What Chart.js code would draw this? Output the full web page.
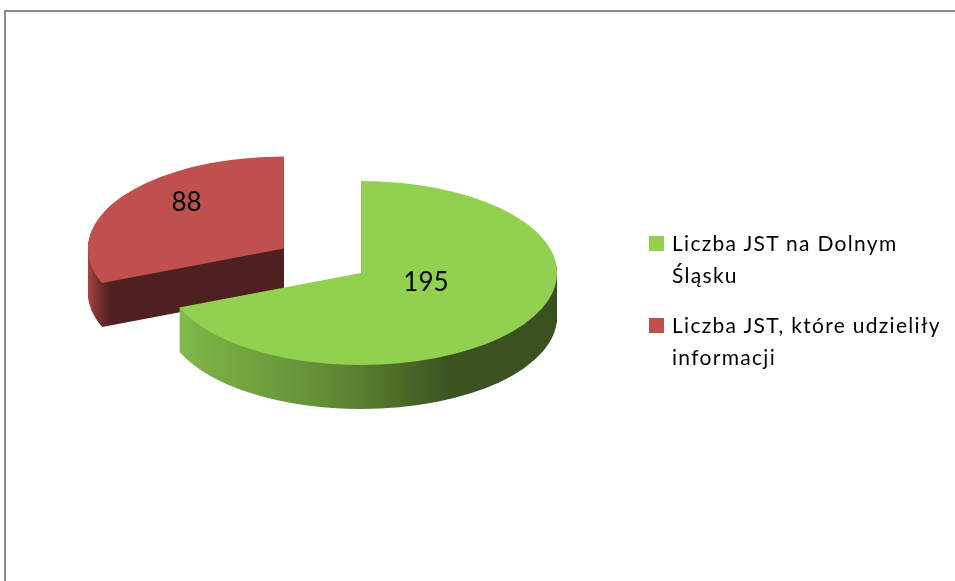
<!DOCTYPE html>
<html>
<head>
<meta charset="utf-8">
<script src="https://cdn.jsdelivr.net/npm/chart.js@4.4.1/dist/chart.umd.min.js"></script>
<style>
html, body { margin: 0; padding: 0; background: #fff; overflow: hidden; }
#wrap { position: relative; width: 955px; height: 581px; }
#frame { position: absolute; left: 4px; top: 10px; width: 970px; height: 600px;
         border-left: 2px solid #8a8a8a; border-top: 2px solid #8a8a8a; }
canvas { position: absolute; left: 0; top: 0; }
#legend { position: absolute; left: 0; top: 0; font-family: Lato, sans-serif; font-size: 21px;
          letter-spacing: 1.3px; color: #000; }
.item { position: absolute; left: 672px; width: 282px; line-height: 31.5px; }
.box { position: absolute; left: -23px; top: 9px; width: 15px; height: 15px; }
</style>
</head>
<body>
<div id="wrap">
  <div id="frame"></div>
  <canvas id="chart" width="955" height="581"></canvas>
  <div id="legend"></div>
</div>
<script>
// dane
var labels = ['Liczba JST na Dolnym Śląsku', 'Liczba JST, które udzieliły informacji'];
var values = [195, 88];
var topColors = ['#92d050', '#c0504d'];
var explode = [0, 93];

// kolory ścian bocznych (gradient od lewej do prawej)
var sideStops = [
    [[0, '#86c04c'], [0.1, '#7bb045'], [0.4, '#628f36'], [0.55, '#52752b'], [0.72, '#3c5421'], [1, '#3a5020']],
    [[0, '#a84442'], [0.025, '#7a3130'], [0.06, '#4f2020'], [1, '#4f2020']]
];

// pseudo 3D - pochylenie i grubość
var pie3d = {
    id: 'pie3d',
    beforeDatasetDraw: function(chart, args, opts) {
        var ctx = chart.ctx;
        var area = chart.chartArea;
        var yc = (area.top + area.bottom) / 2;
        var k = opts.tilt;
        var slices = args.meta.data.map(function(arc, i) {
            var p = arc.getProps(['x', 'y', 'startAngle', 'endAngle', 'outerRadius'], true);
            var off = arc.options.offset || 0;
            var mid = (p.startAngle + p.endAngle) / 2;
            var ux = p.x + Math.cos(mid) * off;
            var uy = p.y + Math.sin(mid) * off;
            return { i: i, cx: ux, cy: yc + (uy - yc) * k, r: p.outerRadius, s: p.startAngle, e: p.endAngle, mid: mid };
        }).sort(function(a, b) { return a.cy - b.cy; });

        slices.forEach(function(sl) {
            function path(dy) {
                ctx.beginPath();
                ctx.moveTo(sl.cx, sl.cy + dy);
                ctx.ellipse(sl.cx, sl.cy + dy, sl.r, sl.r * k, 0, sl.s, sl.e);
                ctx.closePath();
            }
            var g = ctx.createLinearGradient(sl.cx - sl.r, 0, sl.cx + sl.r, 0);
            sideStops[sl.i].forEach(function(st) { g.addColorStop(st[0], st[1]); });
            ctx.fillStyle = g;
            for (var d = opts.depth; d > 0; d--) {
                path(d);
                ctx.fill();
            }
            ctx.fillStyle = topColors[sl.i];
            path(0);
            ctx.fill();
        });

        // etykiety wartości
        ctx.save();
        ctx.fillStyle = '#000';
        ctx.font = opts.labelFont;
        ctx.textAlign = 'center';
        ctx.textBaseline = 'middle';
        slices.forEach(function(sl) {
            var f = opts.labelFrac[sl.i];
            var x = sl.cx + Math.cos(sl.mid) * sl.r * f;
            var y = sl.cy + Math.sin(sl.mid) * sl.r * f * k + opts.labelLift[sl.i];
            ctx.fillText(String(values[sl.i]), x, y);
        });
        ctx.restore();
        return false;
    }
};

var ctx = document.getElementById('chart');
var chart = new Chart(ctx, {
    type: 'pie',
    data: {
        labels: labels,
        datasets: [{
            data: values,
            backgroundColor: topColors,
            borderWidth: 0,
            offset: explode
        }]
    },
    options: {
        responsive: false,
        animation: false,
        radius: 196,
        layout: { padding: { left: 20, right: 253, top: 10, bottom: 45 } },
        plugins: {
            legend: { display: false },
            tooltip: { enabled: false },
            pie3d: {
                tilt: 0.47,
                depth: 44,
                labelFont: '26px Lato',
                labelFrac: [0.4, 0.6],
                labelLift: [-11, -15]
            }
        }
    },
    plugins: [pie3d]
});

// legenda w HTML
var tops = [227, 309];
var legend = document.getElementById('legend');
labels.forEach(function(l, i) {
    var item = document.createElement('div');
    item.className = 'item';
    item.style.top = tops[i] + 'px';
    var box = document.createElement('span');
    box.className = 'box';
    box.style.background = topColors[i];
    item.appendChild(box);
    item.appendChild(document.createTextNode(l));
    legend.appendChild(item);
});
</script>
</body>
</html>
